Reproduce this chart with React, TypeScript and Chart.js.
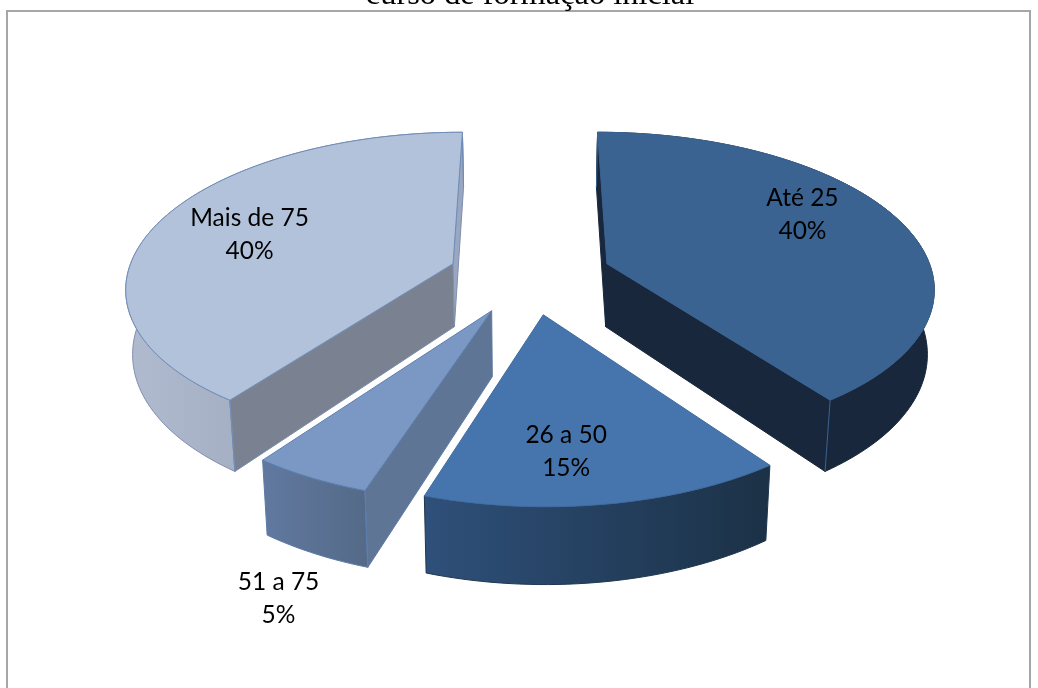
import { useEffect, useRef } from "react";
import { Chart, registerables } from "chart.js";

Chart.register(...registerables);

const categories = ["Até 25", "26 a 50", "51 a 75", "Mais de 75"];
const shares = [40, 15, 5, 40];
const titleText = "curso de formação inicial";

const topColors = ["#3a6391", "#4675ad", "#7b98c4", "#b3c2db"];
const edgeColors = ["#3a6391", "#3f6ba0", "#5d7fae", "#6f8db8"];
const wallEdgeColors = ["#18273b", "#1f3650", "#5d7aa4", "#7f8fae"];
const startFaceColors = ["#18273b", "#1c3249", "#5f7596", "#7a8190"];
const endFaceColors = ["#18273b", "#1c3249", "#5f7596", "#9aa7c0"];
const rimStart = ["#18273b", "#2f507a", "#6179a0", "#b0bbd0"];
const rimEnd = ["#18273b", "#1b3146", "#546a88", "#8d98ac"];
const labelNudges = [
  [18, -22],
  [-13, 31],
  [-110.6, 194],
  [-26, -2],
];

// Perspective camera for the tilted pie, in canvas pixels.
const camera = { cx: 530, cy: 275.5, ax: 326, by: 153, tilt: 0.14 };
const thickness = { base: 63, slope: 0.061, refY: 265, shrink: 0.983 };
const stepsPerRadian = 40;

type Pt = { x: number; y: number };

// Projects a point given in pie radii onto the canvas.
function project(u: number, v: number): Pt {
  const w = 1 / (1 - camera.tilt * v);
  return { x: camera.cx + camera.ax * u * w, y: camera.cy + camera.by * v * w };
}

// Moves a top-surface point to the matching point on the underside.
function drop(p: Pt): Pt {
  return {
    x: camera.cx + (p.x - camera.cx) * thickness.shrink,
    y: p.y + thickness.base + thickness.slope * (p.y - thickness.refY),
  };
}

function tracePolygon(ctx: CanvasRenderingContext2D, pts: Pt[]) {
  ctx.beginPath();
  pts.forEach((p, i) => (i ? ctx.lineTo(p.x, p.y) : ctx.moveTo(p.x, p.y)));
  ctx.closePath();
}

function sliceGeometry(arc: any) {
  const { startAngle, endAngle, outerRadius, options } = arc;
  const mid = (startAngle + endAngle) / 2;
  const off = (options.offset || 0) / outerRadius;
  const ox = Math.cos(mid) * off;
  const oy = Math.sin(mid) * off;
  const steps = Math.max(2, Math.ceil((endAngle - startAngle) * stepsPerRadian));
  const rim: Pt[] = [];
  for (let i = 0; i <= steps; i++) {
    const a = startAngle + ((endAngle - startAngle) * i) / steps;
    rim.push(project(ox + Math.cos(a), oy + Math.sin(a)));
  }
  return { apex: project(ox, oy), rim, ox, oy, mid };
}

// A cut face shows only when the extrusion runs away from the wedge's top surface.
function faceVisible(apex: Pt, corner: Pt, inner: Pt) {
  const ex = corner.x - apex.x;
  const ey = corner.y - apex.y;
  const side = ex * (inner.y - apex.y) - ey * (inner.x - apex.x);
  return ex * side < 0;
}

const tiltedPie = {
  id: "tiltedPie",
  beforeDraw(chart: any) {
    const { ctx, width } = chart;
    ctx.save();
    ctx.fillStyle = "#ffffff";
    ctx.fillRect(0, 0, chart.width, chart.height);
    ctx.strokeStyle = "#a6a6a6";
    ctx.lineWidth = 2;
    ctx.strokeRect(7, 11, width - 15, chart.height);
    ctx.fillStyle = "#000000";
    ctx.font = '32.4px "Liberation Serif"';
    ctx.textAlign = "center";
    ctx.textBaseline = "alphabetic";
    ctx.fillText(titleText, 530, 3.5);
    ctx.restore();
  },
  beforeDatasetsDraw(chart: any) {
    const { ctx } = chart;
    const arcs = chart.getDatasetMeta(0).data;
    const total = shares.reduce((s, n) => s + n, 0);
    const slices = arcs
      .map((arc: any, index: number) => ({ index, ...sliceGeometry(arc) }))
      .sort((a: any, b: any) => a.apex.y - b.apex.y);

    ctx.save();
    ctx.lineJoin = "round";
    ctx.lineWidth = 1;
    for (const s of slices) {
      const { index, apex, rim } = s;
      const first = rim[0];
      const last = rim[rim.length - 1];
      const inner = rim[Math.floor(rim.length / 2)];

      // Curved outer wall with its horizontal shading.
      ctx.strokeStyle = wallEdgeColors[index];
      const xs = rim.map((p: Pt) => p.x);
      const gradient = ctx.createLinearGradient(Math.min(...xs), 0, Math.max(...xs), 0);
      gradient.addColorStop(0, rimStart[index]);
      gradient.addColorStop(1, rimEnd[index]);
      ctx.fillStyle = gradient;
      tracePolygon(ctx, [...rim, ...rim.map(drop).reverse()]);
      ctx.fill();
      ctx.stroke();

      // Flat cut faces on whichever sides of the wedge face the viewer.
      [
        { corner: first, color: startFaceColors[index] },
        { corner: last, color: endFaceColors[index] },
      ].forEach(({ corner, color }) => {
        if (!faceVisible(apex, corner, inner)) return;
        ctx.fillStyle = color;
        tracePolygon(ctx, [apex, corner, drop(corner), drop(apex)]);
        ctx.fill();
        ctx.stroke();
      });

      // Vertical seams where the wall meets a cut face.
      ctx.strokeStyle = edgeColors[index];
      [first, last].forEach((corner) => {
        if (!faceVisible(apex, corner, inner)) return;
        const low = drop(corner);
        ctx.beginPath();
        ctx.moveTo(corner.x, corner.y);
        ctx.lineTo(low.x, low.y);
        ctx.stroke();
      });

      // Top surface.
      ctx.fillStyle = topColors[index];
      tracePolygon(ctx, [apex, ...rim]);
      ctx.fill();
      ctx.stroke();
    }

    // Category and percentage labels.
    ctx.fillStyle = "#000000";
    ctx.font = '24.5px "Lato"';
    ctx.textAlign = "center";
    ctx.textBaseline = "middle";
    for (const s of slices) {
      const c = project(s.ox + Math.cos(s.mid) * 0.6, s.oy + Math.sin(s.mid) * 0.6);
      const x = c.x + labelNudges[s.index][0];
      const y = c.y + labelNudges[s.index][1];
      ctx.fillText(categories[s.index], x, y - 17);
      ctx.fillText(`${Math.round((shares[s.index] / total) * 100)}%`, x, y + 16);
    }
    ctx.restore();
    return false;
  },
};

export default function App() {
  const canvasRef = useRef<HTMLCanvasElement>(null);

  useEffect(() => {
    const chart = new Chart(canvasRef.current!, {
      type: "pie",
      data: {
        labels: categories,
        datasets: [
          {
            data: shares,
            backgroundColor: topColors,
            borderWidth: 0,
            offset: 71,
          },
        ],
      },
      options: {
        responsive: false,
        animation: false,
        events: [],
        radius: 283,
        plugins: { legend: { display: false }, tooltip: { enabled: false }, title: { display: false } },
      },
      plugins: [tiltedPie],
    } as any);
    return () => chart.destroy();
  }, []);

  return (
    <div style={{ position: "absolute", left: 0, top: 0, width: 1038, height: 688, overflow: "hidden" }}>
      <canvas ref={canvasRef} width={1038} height={688} style={{ display: "block" }} />
    </div>
  );
}
